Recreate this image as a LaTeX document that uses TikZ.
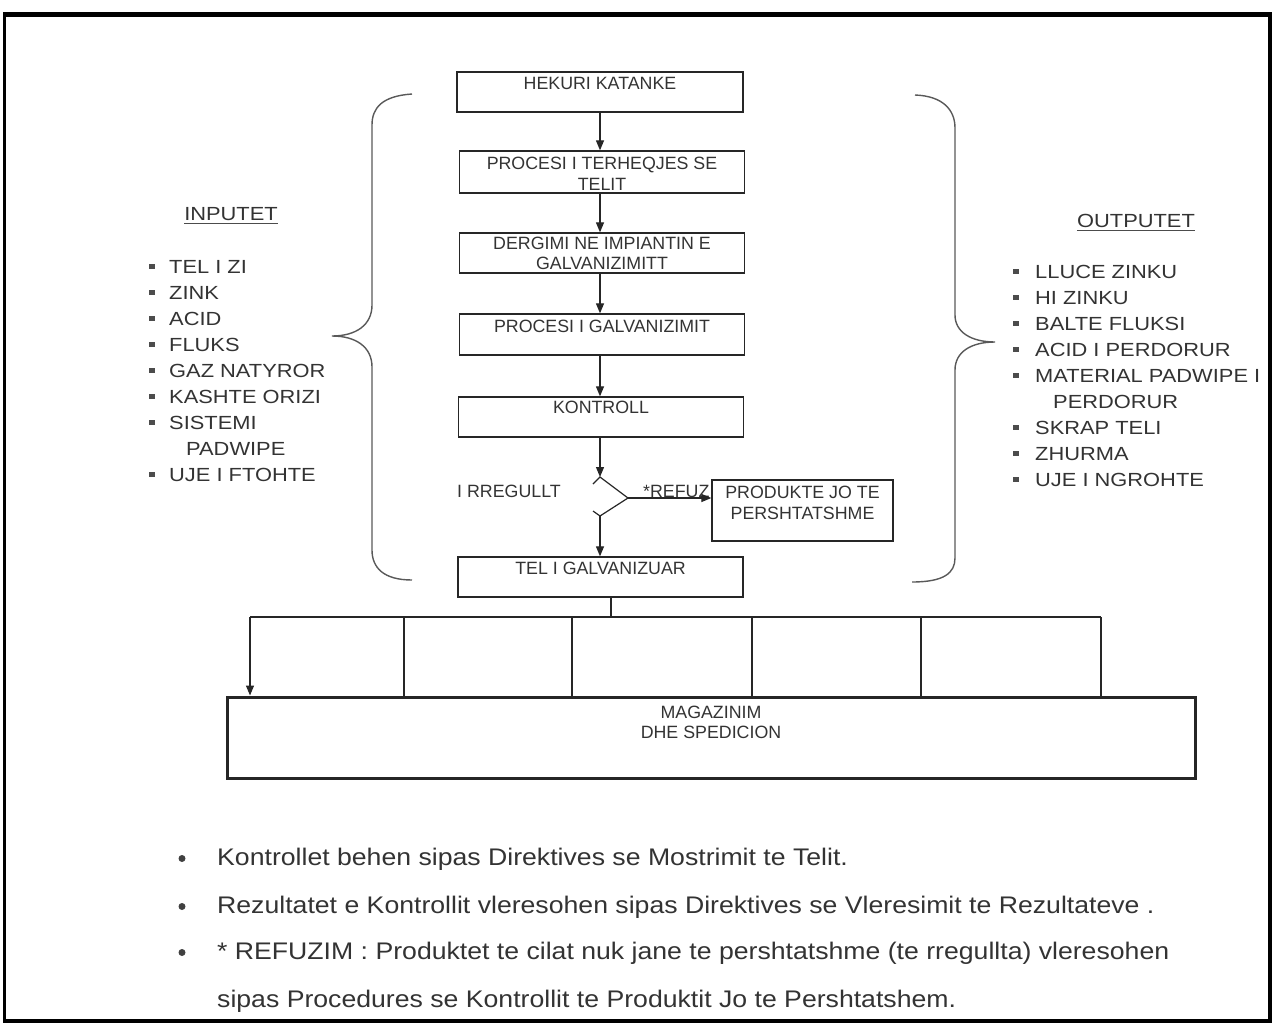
\documentclass[tikz,border=0pt]{standalone}
\usepackage{fontspec}
\setmainfont{Liberation Sans}
\newfontfamily\lstfont[FakeStretch=1.15]{Liberation Sans}
\newfontfamily\botfont[FakeStretch=1.11]{Liberation Sans}
\usetikzlibrary{arrows.meta}
\begin{document}
\begin{tikzpicture}[x=1pt,y=-1pt,
  box/.style={draw=black!85, line width=1.3pt, inner sep=0pt},
  btxt/.style={font=\fontsize{17.8}{21}\selectfont, text=black!80, anchor=base, inner sep=0pt},
  ltxt/.style={font=\lstfont\fontsize{19}{22}\selectfont, text=black!80, anchor=base west, inner sep=0pt},
  htxt/.style={font=\lstfont\fontsize{19}{22}\selectfont, text=black!80, anchor=base, inner sep=0pt},
  ftxt/.style={font=\botfont\fontsize{24}{28}\selectfont, text=black!80, anchor=base west, inner sep=0pt},
  arr/.style={-{Triangle[length=10pt,width=8pt]}, line width=1.2pt, draw=black!85},
  ln/.style={line width=1.2pt, draw=black!85},
  brace/.style={line width=1.4pt, draw=black!65},
  sq/.style={fill=black!70},
]
\useasboundingbox (0,0) rectangle (1274,1023);
% frame
\draw[line width=3.5pt] (4.5,14.5) rectangle (1270,1021);
\draw[line width=5pt] (3,14.5) -- (1272,14.5);

% flow boxes
\node[box, minimum width=286pt, minimum height=40pt] (b1) at (600,92) {};
\node[box, minimum width=285pt, minimum height=42pt] (b2) at (602,172) {};
\node[box, minimum width=285pt, minimum height=40pt] (b3) at (602,253) {};
\node[box, minimum width=285pt, minimum height=41pt] (b4) at (602,334.5) {};
\node[box, minimum width=285pt, minimum height=40pt] (b5) at (601,417) {};
\node[box, minimum width=285pt, minimum height=40pt] (b6) at (600.5,577) {};
\node[box, minimum width=181pt, minimum height=61pt] (b7) at (802.5,510.5) {};
\node[box, line width=3pt, minimum width=968pt, minimum height=81pt] (b8) at (711,737.5) {};

% box texts
\node[btxt] (t1) at (600,89) {HEKURI KATANKE};
\node[btxt] (t2a) at (602,169) {PROCESI I TERHEQJES SE};
\node[btxt] (t2b) at (602,190) {TELIT};
\node[btxt] (t3a) at (602,249) {DERGIMI NE IMPIANTIN E};
\node[btxt] (t3b) at (602,269.5) {GALVANIZIMITT};
\node[btxt] (t4) at (602,332) {PROCESI I GALVANIZIMIT};
\node[btxt] (t5) at (601,413) {KONTROLL};
\node[btxt] (t6) at (600.5,574) {TEL I GALVANIZUAR};
\node[btxt] (t7a) at (802.5,498) {PRODUKTE JO TE};
\node[btxt] (t7b) at (802.5,519) {PERSHTATSHME};
\node[btxt] (t8a) at (711,718) {MAGAZINIM};
\node[btxt] (t8b) at (711,738) {DHE SPEDICION};
\node[btxt, anchor=base west] (rr) at (457,497) {I RREGULLT};
\node[btxt, anchor=base west] (rf) at (643,497) {*REFUZ};

% main arrows
\draw[arr] (b1.south -| 600,0) -- (b2.north -| 600,0);
\draw[arr] (b2.south -| 600,0) -- (b3.north -| 600,0);
\draw[arr] (b3.south -| 600,0) -- (b4.north -| 600,0);
\draw[arr] (b4.south -| 600,0) -- (b5.north -| 600,0);

% switch
\coordinate (s1) at (600,477);
\coordinate (s2) at (628,498);
\coordinate (s3) at (600,516);
\draw[arr] (b5.south -| s1) -- (s1);
\draw[ln] (593,484) -- (s1) -- (s2) -- (s3) -- (593,511);
\draw[arr] (s3) -- (b6.north -| s3);
\draw[arr] (s2) -- (s2 -| b7.west);

% distribution to storage
\coordinate (hM) at (611,617);
\coordinate (hL) at (250,617);
\coordinate (hR) at (1101,617);
\draw[ln] (b6.south -| hM) -- (hM);
\draw[ln] (hL) -- (hR);
\draw[arr] (hL) -- (hL |- b8.north);
\foreach \xx in {404,572,752,921,1101}
  \draw[ln] (\xx,617) -- (b8.north -| \xx,0);

% braces
\draw[brace] (412,94) .. controls (382,96) and (372,108) .. (372,125) -- (372,305)
  .. controls (372,325) and (356,336) .. (332,336)
  .. controls (356,336) and (372,347) .. (372,367) -- (372,550)
  .. controls (372,568) and (384,580) .. (412,580);
\draw[brace] (915,95) .. controls (943,96) and (955,110) .. (955,128) -- (955,315)
  .. controls (955,332) and (971,342) .. (995,342)
  .. controls (971,342) and (955,352) .. (955,370) -- (955,558)
  .. controls (955,573) and (944,582) .. (912,582);

% inputs
\node[htxt] (inp) at (231,220) {INPUTET};
\draw[line width=1pt, black!70] ([yshift=-3pt]inp.south west) -- ([yshift=-3pt]inp.south east);
\foreach \t [count=\i from 0] in {TEL I ZI,ZINK,ACID,FLUKS,GAZ NATYROR,KASHTE ORIZI,SISTEMI}{
  \node[ltxt] (in\i) at (169,{273+26*\i}) {\t};
  \fill[sq] (152,{266.5+26*\i}) ++(-2.6,-2.6) rectangle ++(5.2,5.2);
}
\node[ltxt] (in7) at (186,{273+26*7}) {PADWIPE};
\node[ltxt] (in8) at (169,{273+26*8}) {UJE I FTOHTE};
\fill[sq] (152,{266.5+26*8}) ++(-2.6,-2.6) rectangle ++(5.2,5.2);

% outputs
\node[htxt] (outp) at (1136,227) {OUTPUTET};
\draw[line width=1pt, black!70] ([yshift=-3pt]outp.south west) -- ([yshift=-3pt]outp.south east);
\foreach \t [count=\i from 0] in {LLUCE ZINKU,HI ZINKU,BALTE FLUKSI,ACID I PERDORUR,MATERIAL PADWIPE I}{
  \node[ltxt] (out\i) at (1035,{278.5+26*\i}) {\t};
  \fill[sq] (1016,{271.5+26*\i}) ++(-2.6,-2.6) rectangle ++(5.2,5.2);
}
\node[ltxt] (out5) at (1053,{278.5+26*5}) {PERDORUR};
\foreach \t [count=\i from 6] in {SKRAP TELI,ZHURMA,UJE I NGROHTE}{
  \node[ltxt] (out\i) at (1035,{278.5+26*\i}) {\t};
  \fill[sq] (1016,{271.5+26*\i}) ++(-2.6,-2.6) rectangle ++(5.2,5.2);
}

% footnotes
\node[ftxt] (f1) at (217,865) {Kontrollet behen sipas Direktives se Mostrimit te Telit.};
\node[ftxt] (f2) at (217,913) {Rezultatet e Kontrollit vleresohen sipas Direktives se Vleresimit te Rezultateve .};
\node[ftxt] (f3) at (217,959) {* REFUZIM : Produktet te cilat nuk jane te pershtatshme (te rregullta) vleresohen};
\node[ftxt] (f4) at (217,1007) {sipas Procedures se Kontrollit te Produktit Jo te Pershtatshem.};
\foreach \yy in {865,913,959}
  \fill[black!75] (182,\yy-6.5) circle (3.5pt);
\end{tikzpicture}
\end{document}
